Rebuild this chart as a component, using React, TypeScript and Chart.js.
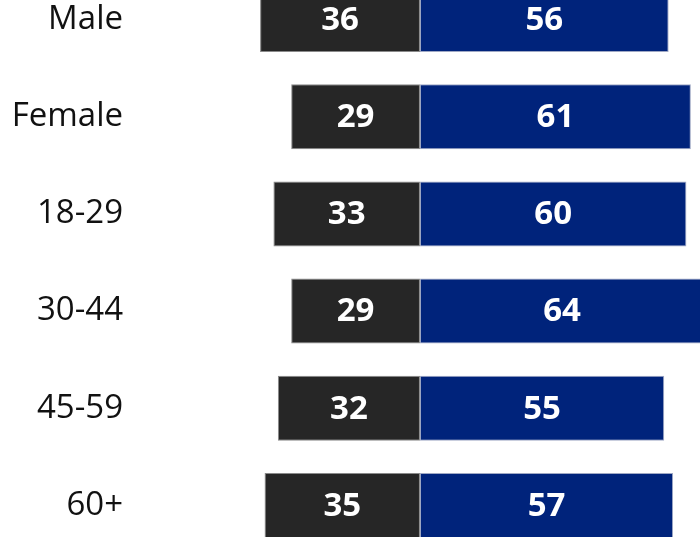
import React, { useEffect, useRef } from "react";
import { Chart, registerables } from "chart.js";

Chart.register(...registerables);

const categories = ["Male", "Female", "18-29", "30-44", "45-59", "60+"];
const darkValues = [36, 29, 33, 29, 32, 35];
const blueValues = [56, 61, 60, 64, 55, 57];

const DARK = "#262626";
const BLUE = "#00237B";

const valueLabels = {
  id: "valueLabels",
  afterDatasetsDraw(chart: any) {
    const ctx = chart.ctx;
    ctx.save();
    ctx.font = "bold 33px 'Open Sans'";
    ctx.fillStyle = "#ffffff";
    ctx.textAlign = "center";
    ctx.textBaseline = "middle";
    chart.data.datasets.forEach((ds: any, di: number) => {
      const meta = chart.getDatasetMeta(di);
      meta.data.forEach((el: any, i: number) => {
        const v = Math.abs(ds.data[i]);
        const cx = (el.x + el.base) / 2;
        ctx.fillText(String(v), cx, el.y + 1);
      });
    });
    ctx.restore();
  },
};

export default function App() {
  const ref = useRef<HTMLCanvasElement>(null);
  useEffect(() => {
    document.body.style.margin = "0";
    document.body.style.overflow = "hidden";
    const chart = new Chart(ref.current!, {
      type: "bar",
      data: {
        labels: categories,
        datasets: [
          {
            label: "A",
            data: darkValues.map((v) => -v),
            backgroundColor: DARK,
            borderColor: "#8a8a8a",
            borderWidth: 1,
            borderSkipped: false,
            categoryPercentage: 1,
            barPercentage: 0.669,
          },
          {
            label: "B",
            data: blueValues,
            backgroundColor: BLUE,
            borderColor: "#9fa8c4",
            borderWidth: 1,
            borderSkipped: false,
            categoryPercentage: 1,
            barPercentage: 0.669,
          },
        ],
      },
      options: {
        indexAxis: "y",
        responsive: false,
        animation: false,
        devicePixelRatio: 1,
        layout: { padding: 0 },
        plugins: { legend: { display: false }, tooltip: { enabled: false } },
        scales: {
          x: {
            stacked: true,
            display: false,
            min: -65.3,
            max: 63.06,
          },
          y: {
            stacked: true,
            grid: { display: false, drawTicks: false },
            border: { display: false },
            ticks: {
              padding: 7,
              color: "#111111",
              font: { family: "'Open Sans'", size: 33 },
            },
            afterFit: (scale: any) => {
              scale.width = 130;
              scale.paddingTop = 0;
              scale.paddingBottom = 0;
            },
          },
        },
      },
      plugins: [valueLabels],
    } as any);
    return () => chart.destroy();
  }, []);
  return (
    <div style={{ position: "fixed", left: 0, top: -29, width: 700, height: 583 }}>
      <canvas ref={ref} width={700} height={583} />
    </div>
  );
}
